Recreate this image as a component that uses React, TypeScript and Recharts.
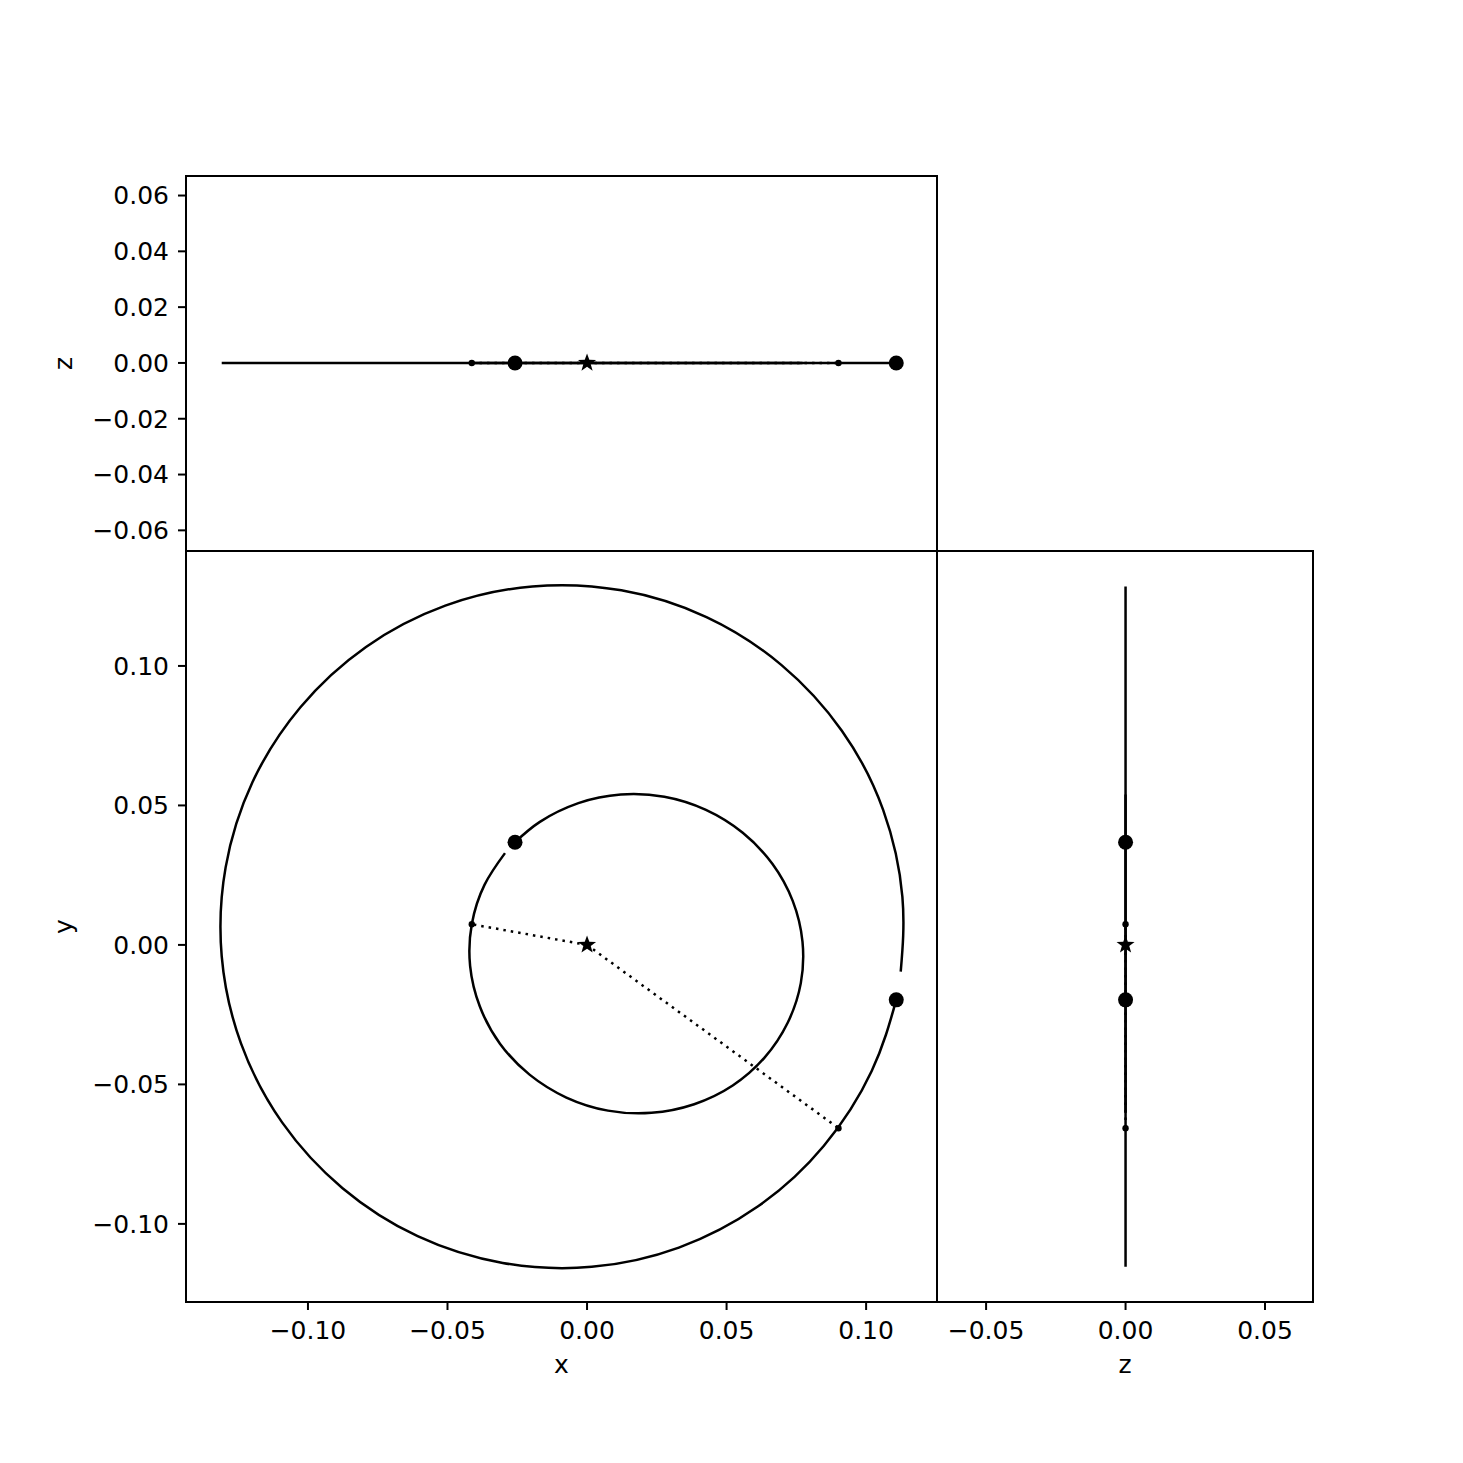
import React from "react";
import { ScatterChart, Scatter, XAxis, YAxis, ReferenceArea } from "recharts";

const INK = "#000000";
const FONT = "DejaVu Sans, sans-serif";

// inner planet orbit, from the planet round to where the line stops
const innerX = [-0.0258, -0.0169, -0.0031, 0.0121, 0.0277, 0.0426, 0.0558, 0.0664, 0.0737, 0.0772, 0.0766, 0.0719, 0.0636, 0.0522, 0.0384, 0.0231, 0.0075, -0.0074, -0.0206, -0.0312, -0.0384, -0.0419, -0.0413, -0.0367, -0.0294];
const innerY = [0.0368, 0.0441, 0.0508, 0.0539, 0.0531, 0.0484, 0.0402, 0.0291, 0.0158, 0.0012, -0.0137, -0.0279, -0.0404, -0.0504, -0.0571, -0.0602, -0.0594, -0.0547, -0.0465, -0.0354, -0.0221, -0.0075, 0.0074, 0.0216, 0.0329];
const innerZ = [0, 0, 0, 0, 0, 0, 0, 0, 0, 0, 0, 0, 0, 0, 0, 0, 0, 0, 0, 0, 0, 0, 0, 0, 0];

// outer planet orbit
const outerX = [0.1108, 0.1020, 0.0848, 0.0613, 0.0329, 0.0017, -0.0302, -0.0607, -0.0876, -0.1092, -0.1240, -0.1309, -0.1295, -0.1199, -0.1027, -0.0792, -0.0508, -0.0196, 0.0123, 0.0428, 0.0697, 0.0913, 0.1061, 0.1130, 0.1124];
const outerY = [-0.0197, -0.0452, -0.0721, -0.0937, -0.1085, -0.1154, -0.1140, -0.1044, -0.0872, -0.0637, -0.0353, -0.0041, 0.0278, 0.0583, 0.0852, 0.1068, 0.1216, 0.1285, 0.1271, 0.1175, 0.1003, 0.0768, 0.0484, 0.0172, -0.0096];
const outerZ = [0, 0, 0, 0, 0, 0, 0, 0, 0, 0, 0, 0, 0, 0, 0, 0, 0, 0, 0, 0, 0, 0, 0, 0, 0];

// planets (inner, outer), pericentres, central star
const planetX = [-0.0258, 0.1108];
const planetY = [0.0368, -0.0197];
const planetZ = [0, 0];
const periX = [-0.0413, 0.0901];
const periY = [0.0074, -0.0657];
const periZ = [0, 0];
const starX = [0];
const starY = [0];
const starZ = [0];

const xyTicks = [-0.1, -0.05, 0, 0.05, 0.1];
const topZTicks = [-0.06, -0.04, -0.02, 0, 0.02, 0.04, 0.06];
const sideZTicks = [-0.05, 0, 0.05];

const X_DOMAIN: [number, number] = [-0.1437, 0.1254];
const Y_DOMAIN: [number, number] = [-0.128, 0.1412];
const TOP_Z_DOMAIN: [number, number] = [-0.0674, 0.067];
const SIDE_Z_DOMAIN: [number, number] = [-0.0676, 0.0672];

const fmt = (v: number) => v.toFixed(2).replace("-", "\u2212");

const axisStroke = { stroke: INK, strokeWidth: 2 };
const tickText = { fill: INK, fontSize: 25, fontFamily: FONT };
const labelText = { fill: INK, fontSize: 25, fontFamily: FONT };

type Key = "x" | "y" | "z";
const cols: Record<string, Record<Key, number[]>> = {
  inner: { x: innerX, y: innerY, z: innerZ },
  outer: { x: outerX, y: outerY, z: outerZ },
  planet: { x: planetX, y: planetY, z: planetZ },
  peri: { x: periX, y: periY, z: periZ },
  star: { x: starX, y: starY, z: starZ },
};

const pts = (name: string, h: Key, v: Key) =>
  cols[name][h].map((a, i) => ({ [h]: a, [v]: cols[name][v][i] }));

const noDot = () => <g />;
const bigDot = (p: any) => <circle cx={p.cx} cy={p.cy} r={7.5} fill={INK} />;
const smallDot = (p: any) => <circle cx={p.cx} cy={p.cy} r={3.2} fill={INK} />;
const starMark = (p: any) => {
  const corners: string[] = [];
  for (let i = 0; i < 10; i++) {
    const r = i % 2 === 0 ? 9.5 : 3.9;
    const a = -Math.PI / 2 + (i * Math.PI) / 5;
    corners.push(`${p.cx + r * Math.cos(a)},${p.cy + r * Math.sin(a)}`);
  }
  return <polygon points={corners.join(" ")} fill={INK} />;
};

function frame(xd: [number, number], yd: [number, number]) {
  return (
    <ReferenceArea x1={xd[0]} x2={xd[1]} y1={yd[0]} y2={yd[1]} fill="none" fillOpacity={0} stroke={INK} strokeWidth={2} strokeOpacity={1} ifOverflow="visible" />
  );
}

function layers(h: Key, v: Key, curve: "natural" | "linear") {
  const star = pts("star", h, v)[0];
  const periLine = (i: number) => [star, pts("peri", h, v)[i]];
  return [
    <Scatter key="inner" data={pts("inner", h, v)} line={{ stroke: INK, strokeWidth: 2.5 }} lineJointType={curve} shape={noDot} isAnimationActive={false} />,
    <Scatter key="outer" data={pts("outer", h, v)} line={{ stroke: INK, strokeWidth: 2.5 }} lineJointType={curve} shape={noDot} isAnimationActive={false} />,
    <Scatter key="p0" data={periLine(0)} line={{ stroke: INK, strokeWidth: 2.5, strokeDasharray: "2.5 5" }} lineJointType="linear" shape={noDot} isAnimationActive={false} />,
    <Scatter key="p1" data={periLine(1)} line={{ stroke: INK, strokeWidth: 2.5, strokeDasharray: "2.5 5" }} lineJointType="linear" shape={noDot} isAnimationActive={false} />,
    <Scatter key="star" data={pts("star", h, v)} shape={starMark} isAnimationActive={false} />,
    <Scatter key="planets" data={pts("planet", h, v)} shape={bigDot} isAnimationActive={false} />,
    <Scatter key="peri" data={pts("peri", h, v)} shape={smallDot} isAnimationActive={false} />,
  ];
}

export default function App() {
  return (
    <div style={{ position: "absolute", left: 0, top: 0, width: 1463, height: 1463, background: "#fff" }}>
      {/* x-z slice above */}
      <div style={{ position: "absolute", left: 0, top: 156 }}>
        <ScatterChart width={957} height={405} margin={{ top: 20, right: 20, left: 0, bottom: 10 }}>
          <XAxis dataKey="x" type="number" domain={X_DOMAIN} allowDataOverflow tick={false} tickLine={false} axisLine={false} height={0} />
          <YAxis dataKey="z" type="number" domain={TOP_Z_DOMAIN} allowDataOverflow ticks={topZTicks} interval={0} tickFormatter={fmt} tick={tickText} tickSize={8} tickMargin={9} tickLine={axisStroke} axisLine={axisStroke} width={186}
            label={{ value: "z", angle: -90, position: "insideLeft", offset: 63, ...labelText, style: { textAnchor: "middle" } }} />
          {frame(X_DOMAIN, TOP_Z_DOMAIN)}
          {layers("x", "z", "linear")}
        </ScatterChart>
      </div>

      {/* x-y main */}
      <div style={{ position: "absolute", left: 0, top: 531 }}>
        <ScatterChart width={957} height={871} margin={{ top: 20, right: 20, left: 0, bottom: 0 }}>
          <XAxis dataKey="x" type="number" domain={X_DOMAIN} allowDataOverflow ticks={xyTicks} interval={0} tickFormatter={fmt} tick={tickText} tickSize={8} tickMargin={11} tickLine={axisStroke} axisLine={axisStroke} height={100}
            label={{ value: "x", position: "insideBottom", offset: 29, ...labelText }} />
          <YAxis dataKey="y" type="number" domain={Y_DOMAIN} allowDataOverflow ticks={xyTicks} interval={0} tickFormatter={fmt} tick={tickText} tickSize={8} tickMargin={9} tickLine={axisStroke} axisLine={axisStroke} width={186}
            label={{ value: "y", angle: -90, position: "insideLeft", offset: 63, ...labelText, style: { textAnchor: "middle" } }} />
          {frame(X_DOMAIN, Y_DOMAIN)}
          {layers("x", "y", "natural")}
        </ScatterChart>
      </div>

      {/* z-y slice at the side */}
      <div style={{ position: "absolute", left: 927, top: 531 }}>
        <ScatterChart width={406} height={871} margin={{ top: 20, right: 20, left: 10, bottom: 0 }}>
          <XAxis dataKey="z" type="number" domain={SIDE_Z_DOMAIN} allowDataOverflow ticks={sideZTicks} interval={0} tickFormatter={fmt} tick={tickText} tickSize={8} tickMargin={11} tickLine={axisStroke} axisLine={axisStroke} height={100}
            label={{ value: "z", position: "insideBottom", offset: 29, ...labelText }} />
          <YAxis dataKey="y" type="number" domain={Y_DOMAIN} allowDataOverflow tick={false} tickLine={false} axisLine={false} width={0} />
          {frame(SIDE_Z_DOMAIN, Y_DOMAIN)}
          {layers("z", "y", "linear")}
        </ScatterChart>
      </div>
    </div>
  );
}
